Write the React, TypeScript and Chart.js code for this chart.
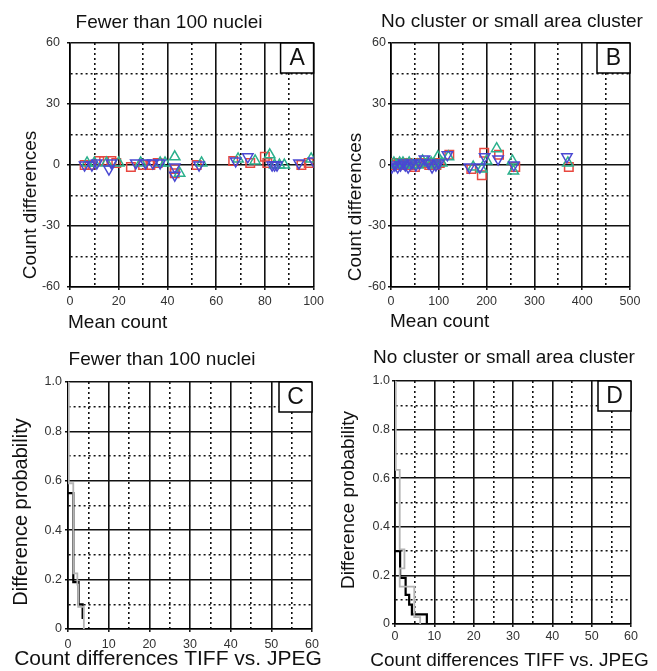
import React, { useEffect, useRef } from 'react';
import { Chart, registerables } from 'chart.js';

Chart.register(...registerables);

const FONT = '"Liberation Sans", Arial, Helvetica, sans-serif';

// ---------- Panel A (Fewer than 100 nuclei) : Mean count vs Count differences ----------
const aRedX = [6, 8, 12, 14, 17, 19, 25, 30, 33, 36, 43, 43, 52, 67, 74, 80, 81, 95, 98];
const aRedY = [0, 0, 2, 2, 2, 1, -1, 0, 0, 1, -2, -4, 0, 2, 1, 4, 1, 0, 1];
const aGreenX = [7, 10, 15, 20, 29, 37, 39, 43, 45, 54, 69, 76, 82, 84, 86, 88, 99];
const aGreenY = [1, 1, 1, 1, 1, 1, 1, 4, -4, 1, 3, 2, 5, 0, 0, 0, 3];
const aBlueX = [6, 9, 11, 16, 17, 27, 31, 34, 37, 43, 43, 53, 68, 73, 83, 84, 85, 94, 100];
const aBlueY = [0, 0, 1, -2, 1, 1, 1, 1, 1, -1, -5, 0, 2, 4, 0, 0, 0, 1, 2];

// ---------- Panel B (No cluster or small area cluster) ----------
const bRedX = [4, 10, 16, 22, 28, 34, 40, 50, 62, 72, 80, 88, 95, 102, 122, 168, 190, 195, 226, 260, 372];
const bRedY = [0, 1, 1, 0, 1, 1, 0, -1, 1, 1, 0, 1, 0, 1, 5, -2, -5, 6, 5, -1, -1];
const bGreenX = [6, 12, 18, 25, 32, 38, 46, 56, 66, 76, 84, 92, 98, 106, 120, 172, 190, 200, 221, 254, 256, 370];
const bGreenY = [1, 0, 1, 1, 0, 1, 0, 0, 2, 1, 1, 0, 4, 1, 4, -1, -2, 2, 8, 2, -3, 1];
const bBlueX = [2, 8, 14, 20, 26, 30, 36, 44, 52, 60, 70, 78, 86, 94, 100, 118, 164, 186, 196, 224, 257, 368];
const bBlueY = [-1, 0, -1, 0, 1, 0, -1, 1, 0, 1, 3, 1, -1, 0, 1, 5, -1, -1, 4, 3, 0, 4];

// ---------- Panel C (Fewer than 100 nuclei) : step curves ----------
const cBlackX = [0, 1.3, 1.3, 2.6, 2.6, 3.6, 3.6];
const cBlackY = [0.55, 0.55, 0.19, 0.19, 0.1, 0.1, 0.04];
const cGrayX = [0.2, 0.2, 1.3, 1.3, 2.3, 2.3, 2.5, 2.5, 3.9, 3.9];
const cGrayY = [1.0, 0.59, 0.59, 0.225, 0.225, 0.18, 0.18, 0.09, 0.09, 0];

// ---------- Panel D (No cluster or small area cluster) : step curves ----------
const dBlackX = [0, 1.3, 1.3, 2.7, 2.7, 3.6, 3.6, 4.3, 4.3, 8.1, 8.1];
const dBlackY = [0.3, 0.3, 0.19, 0.19, 0.12, 0.12, 0.08, 0.08, 0.04, 0.04, 0];
const dGrayX = [0.2, 0.2, 1.2, 1.2, 2.4, 2.4, 1.2, 1.2, 4.9, 4.9, 6.4, 6.4];
const dGrayY = [1.0, 0.634, 0.634, 0.307, 0.307, 0.229, 0.229, 0.154, 0.154, 0.028, 0.028, 0];

// ---------- Axes: grid values and labelled (major) ticks ----------
const diffGrid = [-60, -45, -30, -15, 0, 15, 30, 45, 60];
const diffMajors = [-60, -30, 0, 30, 60];
const diffLabels = ['-60', '-30', '0', '30', '60'];

const meanGridA = [0, 10, 20, 30, 40, 50, 60, 70, 80, 90, 100];
const meanMajorsA = [0, 20, 40, 60, 80, 100];
const meanLabelsA = ['0', '20', '40', '60', '80', '100'];

const meanGridB = [0, 50, 100, 150, 200, 250, 300, 350, 400, 450, 500];
const meanMajorsB = [0, 100, 200, 300, 400, 500];
const meanLabelsB = ['0', '100', '200', '300', '400', '500'];

const cdGrid = [0, 5, 10, 15, 20, 25, 30, 35, 40, 45, 50, 55, 60];
const cdMajors = [0, 10, 20, 30, 40, 50, 60];
const cdLabels = ['0', '10', '20', '30', '40', '50', '60'];

const probGrid = [0, 0.1, 0.2, 0.3, 0.4, 0.5, 0.6, 0.7, 0.8, 0.9, 1.0];
const probMajors = [0, 0.2, 0.4, 0.6, 0.8, 1.0];
const probLabels = ['0', '0.2', '0.4', '0.6', '0.8', '1.0'];

const RED = '#e8473f';
const GREEN = '#2bb08c';
const BLUE = '#4a48d2';
const GRAY = '#b4b4b4';

const zip = (xs: number[], ys: number[]) => xs.map((x, i) => ({ x, y: ys[i] }));

const majorIndex = (majors: number[], v: number) => majors.findIndex((m) => Math.abs(m - v) < 1e-9);

function makeAxis(o: {
  pos: 'left' | 'bottom';
  grid: number[];
  majors: number[];
  labels: string[];
  size: number;
  pad: number;
}) {
  const isMajor = (v: number) => majorIndex(o.majors, v) >= 0;
  return {
    type: 'linear',
    position: o.pos,
    min: o.grid[0],
    max: o.grid[o.grid.length - 1],
    afterBuildTicks: (s: any) => {
      s.ticks = o.grid.map((v) => ({ value: v }));
    },
    afterFit: (s: any) => {
      if (o.pos === 'left') s.width = o.size;
      else s.height = o.size;
    },
    ticks: {
      autoSkip: false,
      maxRotation: 0,
      minRotation: 0,
      padding: o.pad,
      color: '#333',
      font: { size: 12.5, family: FONT },
      callback: (v: any) => {
        const i = majorIndex(o.majors, Number(v));
        return i >= 0 ? o.labels[i] : '';
      },
    },
    grid: {
      color: '#111',
      lineWidth: 1.6,
      drawTicks: true,
      tickLength: 3,
      tickWidth: 1.5,
      tickColor: (c: any) => (c.tick && isMajor(c.tick.value) ? '#111' : 'rgba(0,0,0,0)'),
    },
    border: {
      display: true,
      color: '#000',
      width: 1.6,
      dash: (c: any) => (c.tick && !isMajor(c.tick.value) ? [2, 3] : []),
    },
  };
}

const decorPlugin = {
  id: 'decor',
  afterDraw(chart: any, _args: any, opts: any) {
    const ctx = chart.ctx as CanvasRenderingContext2D;
    const ca = chart.chartArea;
    ctx.save();
    // corner letter box
    const bw = 33;
    const bh = 30;
    const bx = ca.right - bw;
    const by = ca.top;
    ctx.fillStyle = '#fff';
    ctx.fillRect(bx, by, bw, bh);
    ctx.strokeStyle = '#000';
    ctx.lineWidth = 1.5;
    ctx.strokeRect(bx, by, bw, bh);
    ctx.fillStyle = '#111';
    ctx.font = `23px ${FONT}`;
    ctx.textAlign = 'center';
    ctx.textBaseline = 'middle';
    ctx.fillText(opts.letter, bx + bw / 2, by + bh / 2 + 1);

    // title
    ctx.font = `${opts.titleSize}px ${FONT}`;
    ctx.textAlign = 'center';
    ctx.fillText(opts.title, opts.titleX, opts.titleY);

    // x title
    ctx.font = `${opts.xTitleSize}px ${FONT}`;
    ctx.textAlign = opts.xTitleAlign;
    ctx.fillText(opts.xTitle, opts.xTitleX, opts.xTitleY);

    // y title
    ctx.translate(opts.yTitleX, opts.yTitleY);
    ctx.rotate(-Math.PI / 2);
    ctx.font = `${opts.yTitleSize}px ${FONT}`;
    ctx.textAlign = 'center';
    ctx.fillText(opts.yTitle, 0, 0);
    ctx.restore();
  },
};

function scatterSets(rx: number[], ry: number[], gx: number[], gy: number[], ux: number[], uy: number[]) {
  const base = { backgroundColor: 'rgba(0,0,0,0)', pointBackgroundColor: 'rgba(0,0,0,0)', pointBorderWidth: 1.5, borderWidth: 1.5 };
  return [
    { ...base, label: 'down', data: zip(ux, uy), borderColor: BLUE, pointBorderColor: BLUE, pointStyle: 'triangle', pointRotation: 180, pointRadius: 6 },
    { ...base, label: 'up', data: zip(gx, gy), borderColor: GREEN, pointBorderColor: GREEN, pointStyle: 'triangle', pointRadius: 6 },
    { ...base, label: 'square', data: zip(rx, ry), borderColor: RED, pointBorderColor: RED, pointStyle: 'rect', pointRadius: 6 },
  ];
}

function stepSets(kx: number[], ky: number[], gx: number[], gy: number[]) {
  return [
    { label: 'gray', data: zip(gx, gy), showLine: true, borderColor: GRAY, borderWidth: 1.8, pointRadius: 0, tension: 0, fill: false },
    { label: 'black', data: zip(kx, ky), showLine: true, borderColor: '#000', borderWidth: 2.2, pointRadius: 0, tension: 0, fill: false },
  ];
}

type Spec = {
  left: number;
  top: number;
  w: number;
  h: number;
  padTop: number;
  padRight: number;
  datasets: any[];
  xAxis: any;
  yAxis: any;
  decor: any;
};

const specs: Spec[] = [
  {
    left: 0, top: 0, w: 328, h: 330, padTop: 43, padRight: 12,
    datasets: scatterSets(aRedX, aRedY, aGreenX, aGreenY, aBlueX, aBlueY),
    xAxis: makeAxis({ pos: 'bottom', grid: meanGridA, majors: meanMajorsA, labels: meanLabelsA, size: 43, pad: 4 }),
    yAxis: makeAxis({ pos: 'left', grid: diffGrid, majors: diffMajors, labels: diffLabels, size: 70, pad: 7 }),
    decor: {
      letter: 'A', title: 'Fewer than 100 nuclei', titleX: 169, titleY: 23, titleSize: 19,
      xTitle: 'Mean count', xTitleX: 68, xTitleY: 323, xTitleSize: 19, xTitleAlign: 'left',
      yTitle: 'Count differences', yTitleX: 31, yTitleY: 205, yTitleSize: 19,
    },
  },
  {
    left: 328, top: 0, w: 329, h: 330, padTop: 43, padRight: 27,
    datasets: scatterSets(bRedX, bRedY, bGreenX, bGreenY, bBlueX, bBlueY),
    xAxis: makeAxis({ pos: 'bottom', grid: meanGridB, majors: meanMajorsB, labels: meanLabelsB, size: 43, pad: 4 }),
    yAxis: makeAxis({ pos: 'left', grid: diffGrid, majors: diffMajors, labels: diffLabels, size: 63, pad: 2 }),
    decor: {
      letter: 'B', title: 'No cluster or small area cluster', titleX: 184, titleY: 22, titleSize: 19,
      xTitle: 'Mean count', xTitleX: 62, xTitleY: 322, xTitleSize: 19, xTitleAlign: 'left',
      yTitle: 'Count differences', yTitleX: 28, yTitleY: 207, yTitleSize: 19,
    },
  },
  {
    left: 0, top: 330, w: 328, h: 341, padTop: 52, padRight: 16,
    datasets: stepSets(cBlackX, cBlackY, cGrayX, cGrayY),
    xAxis: makeAxis({ pos: 'bottom', grid: cdGrid, majors: cdMajors, labels: cdLabels, size: 42, pad: 5 }),
    yAxis: makeAxis({ pos: 'left', grid: probGrid, majors: probMajors, labels: probLabels, size: 68, pad: 3 }),
    decor: {
      letter: 'C', title: 'Fewer than 100 nuclei', titleX: 162, titleY: 30, titleSize: 19,
      xTitle: 'Count differences TIFF vs. JPEG', xTitleX: 168, xTitleY: 329, xTitleSize: 21, xTitleAlign: 'center',
      yTitle: 'Difference probability', yTitleX: 21.5, yTitleY: 182, yTitleSize: 20,
    },
  },
  {
    left: 328, top: 330, w: 329, h: 341, padTop: 51, padRight: 26,
    datasets: stepSets(dBlackX, dBlackY, dGrayX, dGrayY),
    xAxis: makeAxis({ pos: 'bottom', grid: cdGrid, majors: cdMajors, labels: cdLabels, size: 47, pad: 2 }),
    yAxis: makeAxis({ pos: 'left', grid: probGrid, majors: probMajors, labels: probLabels, size: 67, pad: 2 }),
    decor: {
      letter: 'D', title: 'No cluster or small area cluster', titleX: 176, titleY: 27.5, titleSize: 19,
      xTitle: 'Count differences TIFF vs. JPEG', xTitleX: 181.5, xTitleY: 331, xTitleSize: 19, xTitleAlign: 'center',
      yTitle: 'Difference probability', yTitleX: 21, yTitleY: 170, yTitleSize: 19,
    },
  },
];

function Panel({ spec }: { spec: Spec }) {
  const ref = useRef<HTMLCanvasElement>(null);
  useEffect(() => {
    const chart = new Chart(ref.current as HTMLCanvasElement, {
      type: 'scatter',
      data: { datasets: spec.datasets },
      options: {
        animation: false,
        responsive: false,
        devicePixelRatio: 1,
        events: [],
        layout: { padding: { left: 0, top: spec.padTop, right: spec.padRight, bottom: 0 } },
        scales: { x: spec.xAxis, y: spec.yAxis },
        plugins: {
          legend: { display: false },
          tooltip: { enabled: false },
          title: { display: false },
          decor: spec.decor,
        } as any,
      } as any,
      plugins: [decorPlugin as any],
    });
    return () => chart.destroy();
  }, [spec]);
  return (
    <canvas
      ref={ref}
      width={spec.w}
      height={spec.h}
      style={{ position: 'absolute', left: spec.left, top: spec.top, width: spec.w, height: spec.h }}
    />
  );
}

export default function App() {
  return (
    <div style={{ position: 'absolute', left: 0, top: 0, width: 657, height: 671, background: '#fff', overflow: 'hidden' }}>
      {specs.map((s, i) => (
        <Panel key={i} spec={s} />
      ))}
    </div>
  );
}
